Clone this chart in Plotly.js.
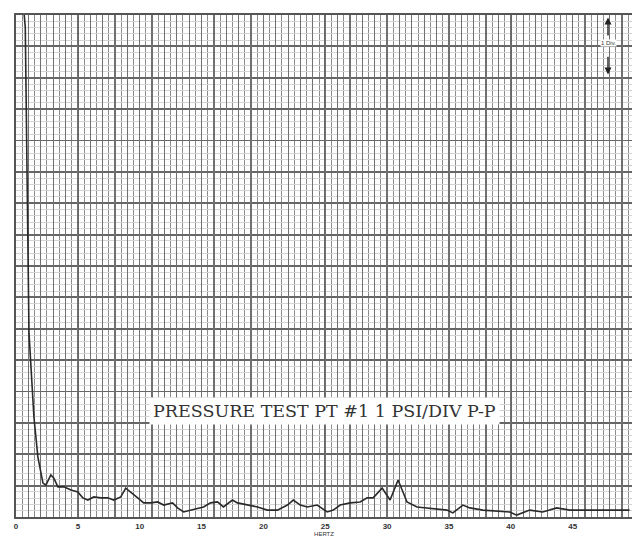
<!DOCTYPE html>
<html>
<head>
<meta charset="utf-8">
<script src="https://cdn.plot.ly/plotly-3.0.1.min.js"></script>
<style>html,body{margin:0;padding:0;background:#fff;}#chart{width:632px;height:541px;}</style>
</head>
<body>
<div id="chart"></div>
<script>
// Frequency (Hz) and amplitude (divisions, 1 PSI/DIV)
const freqHz = [0.6, 0.75, 1.05, 1.29, 1.45, 1.77, 2.18, 2.42, 2.82, 3.06, 3.39, 3.87, 4.44, 5.0, 5.40, 5.81, 6.29, 6.85, 7.42, 7.90, 8.47, 8.87, 9.27, 9.84, 10.32, 10.89, 11.45, 11.94, 12.66, 13.06, 13.55, 14.11, 14.68, 15.16, 15.73, 16.29, 16.77, 17.5, 17.90, 18.71, 19.52, 20.32, 21.13, 21.94, 22.42, 22.98, 23.55, 24.35, 25.16, 25.65, 26.21, 27.02, 27.82, 28.39, 28.87, 29.6, 30.24, 30.89, 31.61, 32.42, 34.84, 35.32, 36.13, 36.69, 37.74, 39.92, 40.48, 41.53, 42.58, 43.71, 44.76, 45.81, 46.94, 47.98, 49.6];
const amplitudeDiv = [16.3, 15.6, 5.86, 4.27, 3.18, 1.91, 1.08, 1.02, 1.34, 1.24, 0.96, 0.96, 0.86, 0.80, 0.61, 0.54, 0.64, 0.61, 0.61, 0.54, 0.64, 0.92, 0.80, 0.61, 0.45, 0.45, 0.48, 0.38, 0.45, 0.29, 0.16, 0.22, 0.29, 0.32, 0.45, 0.48, 0.32, 0.54, 0.45, 0.38, 0.32, 0.22, 0.22, 0.38, 0.54, 0.38, 0.32, 0.38, 0.16, 0.22, 0.38, 0.45, 0.48, 0.61, 0.61, 0.92, 0.54, 1.18, 0.48, 0.32, 0.22, 0.13, 0.38, 0.29, 0.22, 0.16, 0.06, 0.22, 0.16, 0.29, 0.22, 0.22, 0.22, 0.22, 0.22];
const xTickVals = [0, 5, 10, 15, 20, 25, 30, 35, 40, 45, 50];
const xTickText = ['0', '5', '10', '15', '20', '25', '30', '35', '40', '45', '50'];
const chartLabel = 'PRESSURE TEST PT #1 1 PSI/DIV P-P';
const xTitle = 'HERTZ';
const divLabel = '1 Div.';

const xRange = [0, 49.8];
const yRange = [0, 16];

const traces = [
  {x: [], y: [], xaxis: 'x2', yaxis: 'y', type: 'scatter', hoverinfo: 'skip'},
  {x: freqHz, y: amplitudeDiv, type: 'scatter', mode: 'lines',
   line: {color: '#2a2a2a', width: 1.6}, hoverinfo: 'skip'}
];

const layout = {
  width: 632, height: 541,
  margin: {l: 16, r: 0, t: 15, b: 24},
  paper_bgcolor: '#ffffff',
  plot_bgcolor: '#ffffff',
  showlegend: false,
  font: {family: 'Liberation Sans, Arial, sans-serif', color: '#333'},
  xaxis: {
    range: xRange, tickvals: xTickVals, ticktext: xTickText,
    showgrid: true, gridcolor: '#666666', gridwidth: 1.6,
    zeroline: false, showline: true, linecolor: '#555', linewidth: 2, mirror: true,
    ticks: '', tickfont: {size: 8, family: 'Liberation Sans, Arial', color: '#333', weight: 'bold'},
    minor: {dtick: 0.5, showgrid: true, gridcolor: '#8c8c8c', gridwidth: 1},
    title: {text: xTitle, font: {size: 6, color: '#333'}, standoff: 0},
    fixedrange: true
  },
  yaxis: {
    range: yRange, dtick: 1, showticklabels: false,
    showgrid: true, gridcolor: '#666666', gridwidth: 1.8,
    zeroline: false, showline: true, linecolor: '#555', linewidth: 2, mirror: true,
    ticks: '',
    minor: {dtick: 0.2, showgrid: true, gridcolor: '#d4d4d4', gridwidth: 1},
    fixedrange: true
  },
  xaxis2: {
    overlaying: 'x', anchor: 'y', range: xRange, dtick: 1, showticklabels: false, showline: false,
    showgrid: true, gridcolor: '#707070', gridwidth: 1.2, zeroline: false, ticks: '', fixedrange: true
  },
  annotations: [
    {x: 24.9, y: 3.38, xref: 'x', yref: 'y', text: chartLabel, showarrow: false,
     font: {family: 'DejaVu Serif, Liberation Serif, serif', size: 17.5, color: '#333'},
     bgcolor: '#ffffff', borderpad: 3},
    {x: 47.9, y: 15.12, xref: 'x', yref: 'y', text: divLabel, showarrow: false,
     font: {family: 'Liberation Sans, Arial', size: 6, color: '#333'}, bgcolor: '#ffffff', borderpad: 0},
    {x: 47.86, y: 15.92, xref: 'x', yref: 'y', ax: 47.86, ay: 15.3, axref: 'x', ayref: 'y',
     text: '', showarrow: true, arrowhead: 2, arrowsize: 1, arrowwidth: 1.4, arrowcolor: '#222'},
    {x: 47.86, y: 14.1, xref: 'x', yref: 'y', ax: 47.86, ay: 14.72, axref: 'x', ayref: 'y',
     text: '', showarrow: true, arrowhead: 2, arrowsize: 1, arrowwidth: 1.4, arrowcolor: '#222'}
  ]
};

Plotly.newPlot('chart', traces, layout, {staticPlot: true, displayModeBar: false});
</script>
</body>
</html>
